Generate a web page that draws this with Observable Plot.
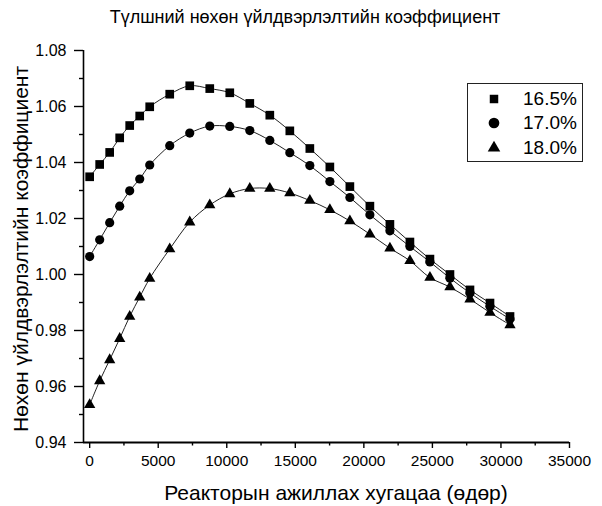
<!DOCTYPE html>
<html>
<head>
<meta charset="utf-8">
<script src="https://cdn.jsdelivr.net/npm/d3@7"></script>
<script src="https://cdn.jsdelivr.net/npm/@observablehq/plot@0.6"></script>
<style>
  html, body { margin: 0; padding: 0; background: #fff; }
  #wrap { position: relative; width: 602px; height: 506px; font-family: "Liberation Sans", Arial, sans-serif; color: #000; overflow: hidden; }
  #wrap svg.plot { position: absolute; left: 0; top: 0; }
  .title { position: absolute; left: 105px; width: 400px; top: 7px; text-align: center; font-size: 18px; white-space: nowrap; }
  .xlabel { position: absolute; left: 136px; width: 400px; top: 481px; text-align: center; font-size: 21px; white-space: nowrap; }
  .ylabel { position: absolute; left: 21px; top: 249px; width: 420px; text-align: center; font-size: 21px;
            transform: translate(-50%, -50%) rotate(-90deg); white-space: nowrap; }
  .legend { position: absolute; left: 467px; top: 83px; width: 114px; height: 77px; border: 1px solid #222; }
  .legend .row { position: absolute; left: 0; height: 24px; width: 114px; }
  .legend .row span { position: absolute; left: 55px; top: 0; font-size: 19px; line-height: 24px; }
</style>
</head>
<body>
<div id="wrap"></div>
<script>
// ---- data ----
const days = [0, 730, 1460, 2190, 2920, 3650, 4380, 5840, 7300, 8760, 10220, 11680, 13140,
              14600, 16060, 17520, 18980, 20440, 21900, 23360, 24820, 26280, 27740, 29200, 30660];
const seriesNames = ["16.5%", "17.0%", "18.0%"];
const k165 = [1.0349, 1.0393, 1.0436, 1.0488, 1.0532, 1.0566, 1.0599, 1.0644, 1.0674, 1.0664, 1.0649, 1.0611, 1.0569,
              1.0513, 1.0450, 1.0384, 1.0314, 1.0244, 1.0179, 1.0116, 1.0055, 1.0000, 0.9945, 0.9898, 0.9850];
const k170 = [1.0064, 1.0124, 1.0185, 1.0244, 1.0299, 1.0341, 1.0391, 1.0460, 1.0505, 1.0530, 1.0529, 1.0514, 1.0479,
              1.0435, 1.0389, 1.0332, 1.0275, 1.0213, 1.0156, 1.0100, 1.0045, 0.9987, 0.9934, 0.9886, 0.9841];
const k180 = [0.9535, 0.9620, 0.9695, 0.9771, 0.9850, 0.9919, 0.9986, 1.0091, 1.0187, 1.0248, 1.0288, 1.0307, 1.0307,
              1.0291, 1.0264, 1.0231, 1.0191, 1.0144, 1.0094, 1.0049, 0.9989, 0.9955, 0.9912, 0.9864, 0.9820];
const xTicks = [0, 5000, 10000, 15000, 20000, 25000, 30000, 35000];
const xMinorTicks = [2500, 7500, 12500, 17500, 22500, 27500, 32500];
const yTicks = [0.94, 0.96, 0.98, 1.00, 1.02, 1.04, 1.06, 1.08];
const yMinorTicks = [0.95, 0.97, 0.99, 1.01, 1.03, 1.05, 1.07];
const xDomain = [-450, 35000];
const yDomain = [0.94, 1.08];
const titleText = "Түлшний нөхөн үйлдвэрлэлтийн коэффициент";
const xLabelText = "Реакторын ажиллах хугацаа (өдөр)";
const yLabelText = "Нөхөн үйлдвэрлэлтийн коэффициент";

// ---- build table ----
const allSeries = [k165, k170, k180];
const data = seriesNames.flatMap((name, i) => days.map((d, j) => ({series: name, day: d, k: allSeries[i][j]})));
const symbols = {"16.5%": "square", "17.0%": "circle", "18.0%": "triangle"};
const radii = {"16.5%": 4.9, "17.0%": 4.6, "18.0%": 4.2};

const marks = [
  Plot.axisX({ticks: xTicks, tickSize: 6, tickPadding: 6, fontSize: 15.5, tickFormat: d3.format("d"), label: null, stroke: "#000", strokeWidth: 1.4}),
  Plot.axisX({ticks: xMinorTicks, tickSize: 3.5, tickFormat: () => "", label: null, stroke: "#000", strokeWidth: 1.4}),
  Plot.axisY({ticks: yTicks, tickSize: 9, tickPadding: 8, fontSize: 16, tickFormat: d3.format(".2f"), label: null, stroke: "#000", strokeWidth: 1.4}),
  Plot.axisY({ticks: yMinorTicks, tickSize: 4, tickFormat: () => "", label: null, stroke: "#000", strokeWidth: 1.4}),
  Plot.ruleY([yDomain[0]], {stroke: "#000", strokeWidth: 2.2}),
  Plot.ruleX([xDomain[0]], {stroke: "#000", strokeWidth: 1.6}),
  Plot.line(data, {x: "day", y: "k", z: "series", curve: "catmull-rom", stroke: "#222", strokeWidth: 1})
];
for (const name of seriesNames) {
  marks.push(Plot.dot(data.filter(d => d.series === name), {x: "day", y: "k", symbol: symbols[name], r: radii[name], fill: "#000", stroke: "none"}));
}

const plot = Plot.plot({
  width: 602,
  height: 506,
  marginLeft: 83,
  marginRight: 33,
  marginTop: 50,
  marginBottom: 64,
  x: {domain: xDomain},
  y: {domain: yDomain},
  style: {fontSize: "15px", fontFamily: "Liberation Sans, Arial, sans-serif", color: "#000", background: "#fff", overflow: "visible"},
  marks
});
plot.classList.add("plot");

const wrap = document.getElementById("wrap");
wrap.appendChild(plot);

const t = document.createElement("div"); t.className = "title"; t.textContent = titleText; wrap.appendChild(t);
const xl = document.createElement("div"); xl.className = "xlabel"; xl.textContent = xLabelText; wrap.appendChild(xl);
const yl = document.createElement("div"); yl.className = "ylabel"; yl.textContent = yLabelText; wrap.appendChild(yl);

// legend
const lg = document.createElement("div"); lg.className = "legend"; wrap.appendChild(lg);
const symMap = {"square": d3.symbolSquare, "circle": d3.symbolCircle, "triangle": d3.symbolTriangle};
const legendSizes = {"16.5%": 72, "17.0%": 90, "18.0%": 68};
seriesNames.forEach((name, i) => {
  const row = document.createElement("div"); row.className = "row";
  row.style.top = (2.5 + i * 24.5) + "px";
  const svg = d3.create("svg").attr("width", 40).attr("height", 24).style("position", "absolute").style("left", "6px").style("top", "0px");
  svg.append("path").attr("transform", "translate(20,12)")
     .attr("d", d3.symbol(symMap[symbols[name]], legendSizes[name])()).attr("fill", "#000");
  row.appendChild(svg.node());
  const sp = document.createElement("span"); sp.textContent = name; row.appendChild(sp);
  lg.appendChild(row);
});
</script>
</body>
</html>
